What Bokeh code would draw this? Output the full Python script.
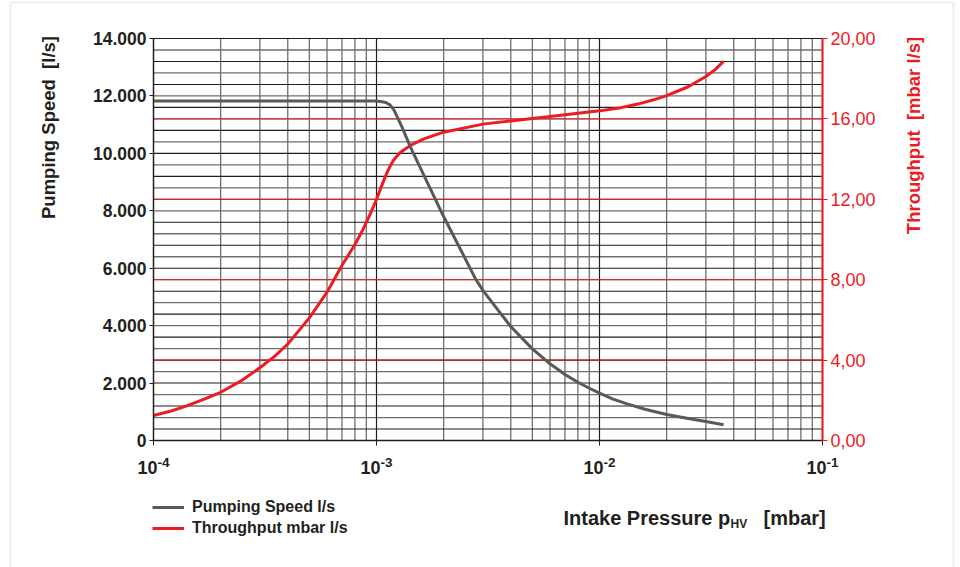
import math
from bokeh.plotting import figure
from bokeh.models import (Range1d, LinearAxis, FixedTicker, Label, Legend,
                          LegendItem, CustomJSTickFormatter, BoxAnnotation)
from bokeh.embed import file_html
from bokeh.resources import INLINE

# ---------------- data ----------------
pump_p = [1e-4, 1.0e-3, 1.06e-3, 1.1e-3, 1.15e-3, 1.2e-3, 1.3e-3, 1.42e-3, 2.0e-3,
          2.4e-3, 2.78e-3, 3.0e-3, 3.5e-3, 4.0e-3, 5.0e-3, 6.0e-3, 7.0e-3, 8.0e-3,
          9.0e-3, 1.0e-2, 1.15e-2, 1.33e-2, 1.6e-2, 2.0e-2, 2.5e-2, 3.0e-2, 3.6e-2]
pump_s = [11820, 11820, 11800, 11770, 11690, 11500, 10920, 10220, 7800,
          6600, 5630, 5230, 4550, 3970, 3190, 2670, 2300, 2030,
          1820, 1650, 1440, 1275, 1090, 906, 766, 662, 547]

thr_p = [1e-4, 1.2e-4, 1.4e-4, 1.7e-4, 2e-4, 2.45e-4, 3e-4, 3.5e-4, 4e-4, 5e-4, 6e-4,
         7e-4, 8e-4, 8.7e-4, 9.4e-4, 1.0e-3, 1.078e-3, 1.12e-3, 1.155e-3, 1.19e-3,
         1.22e-3, 1.281e-3, 1.42e-3, 1.63e-3, 2e-3, 3e-3, 4e-3, 5e-3, 6e-3, 1e-2,
         1.25e-2, 1.5e-2, 1.75e-2, 2e-2, 2.5e-2, 3e-2, 3.3e-2, 3.6e-2]
thr_q = [1.24, 1.47, 1.71, 2.07, 2.40, 2.94, 3.62, 4.20, 4.80, 6.10, 7.38,
         8.71, 9.75, 10.50, 11.30, 12.0, 12.94, 13.38, 13.68, 13.93,
         14.08, 14.34, 14.68, 15.01, 15.34, 15.74, 15.9, 16.02, 16.12, 16.40,
         16.56, 16.75, 16.95, 17.16, 17.6, 18.11, 18.45, 18.86]

x_decades = [1e-4, 1e-3, 1e-2, 1e-1]
x_base_labels = ["10", "10", "10", "10"]
x_exp_labels = ["-4", "-3", "-2", "-1"]
left_ticks = [0, 2000, 4000, 6000, 8000, 10000, 12000, 14000]
left_labels = ["0", "2.000", "4.000", "6.000", "8.000", "10.000", "12.000", "14.000"]
right_ticks = [0, 4, 8, 12, 16, 20]
right_labels = ["0,00", "4,00", "8,00", "12,00", "16,00", "20,00"]

# ---------------- layout / style ----------------
W, H = 960, 567
BOX_L, BOX_R, BOX_T, BOX_B = 153, 822, 38, 440     # pixel box of the chart grid
X_MIN, X_MAX = 1e-4, 1e-1
Y_MIN, Y_MAX = 0, 14000
R_MIN, R_MAX = 0, 20

px_per_dec = (BOX_R - BOX_L) / (math.log10(X_MAX) - math.log10(X_MIN))
x_start = 10 ** (math.log10(X_MIN) - BOX_L / px_per_dec)
x_end = 10 ** (math.log10(X_MAX) + (W - BOX_R) / px_per_dec)
y_per_px = (Y_MAX - Y_MIN) / (BOX_B - BOX_T)
r_per_px = (R_MAX - R_MIN) / (BOX_B - BOX_T)

FONT = "Liberation Sans"
TXT = "#231f20"
RED = "#ed1c24"
GRAY_LINE = "#58595b"
GRID_DARK = "#1e1e1e"
GRID_GRAY = "#6e6e6e"


def sy(page_y):
    return H - page_y


p = figure(width=W, height=H, x_axis_type="log",
           x_range=Range1d(x_start, x_end),
           y_range=Range1d(Y_MIN - (H - BOX_B) * y_per_px, Y_MAX + BOX_T * y_per_px),
           output_backend="svg", toolbar_location=None, min_border=0)
p.extra_y_ranges = {"right": Range1d(R_MIN - (H - BOX_B) * r_per_px,
                                     R_MAX + BOX_T * r_per_px)}
p.background_fill_color = "white"
p.border_fill_color = "white"
p.outline_line_color = None
p.xgrid.visible = False
p.ygrid.visible = False

# ---- grid lines (inside the chart box only) ----
minor_x = [d * m for d in x_decades[:-1] for m in range(2, 10)]
h_gray = list(range(800, Y_MAX, 800))
h_dark = list(range(400, Y_MAX + 1, 800))
red_grid = right_ticks[1:-1]

p.segment(x0=minor_x, y0=[Y_MIN] * len(minor_x), x1=minor_x, y1=[Y_MAX] * len(minor_x),
          line_color=GRID_GRAY, line_width=1.3)
p.segment(x0=[X_MIN] * len(h_gray), y0=h_gray, x1=[X_MAX] * len(h_gray), y1=h_gray,
          line_color=GRID_GRAY, line_width=1.3)
p.segment(x0=[X_MIN] * len(h_dark), y0=h_dark, x1=[X_MAX] * len(h_dark), y1=h_dark,
          line_color=GRID_DARK, line_width=1.1)
p.segment(x0=x_decades, y0=[Y_MIN] * 4, x1=x_decades, y1=[Y_MAX] * 4,
          line_color=GRID_DARK, line_width=1.2)
p.segment(x0=[X_MIN] * len(red_grid), y0=red_grid, x1=[X_MAX] * len(red_grid), y1=red_grid,
          y_range_name="right", line_color=RED, line_width=1)

# ---- axes (fixed on the box edges) ----
xa = p.xaxis[0]
xa.fixed_location = Y_MIN
xa.bounds = (X_MIN, X_MAX)
xa.ticker = FixedTicker(ticks=x_decades)
xa.formatter = CustomJSTickFormatter(code="return ''")
xa.axis_line_color = GRID_DARK
xa.axis_line_width = 1.3
xa.major_tick_line_color = GRID_DARK
xa.major_tick_out = 5
xa.major_tick_in = 0
xa.minor_tick_line_color = None

ya = p.yaxis[0]
ya.fixed_location = X_MIN
ya.bounds = (Y_MIN, Y_MAX)
ya.ticker = FixedTicker(ticks=left_ticks)
ya.major_label_overrides = dict(zip(left_ticks, left_labels))
ya.major_label_text_font = FONT
ya.major_label_text_font_size = "17.5px"
ya.major_label_text_font_style = "bold"
ya.major_label_text_color = TXT
ya.major_label_standoff = 3
ya.axis_line_color = GRID_DARK
ya.axis_line_width = 1.3
ya.major_tick_line_color = GRID_DARK
ya.major_tick_out = 4
ya.major_tick_in = 0
ya.minor_tick_line_color = None

ra = LinearAxis(y_range_name="right", ticker=FixedTicker(ticks=right_ticks),
                fixed_location=X_MAX, bounds=(R_MIN, R_MAX))
ra.major_label_overrides = dict(zip(right_ticks, right_labels))
ra.major_label_text_font = FONT
ra.major_label_text_font_size = "18px"
ra.major_label_text_color = RED
ra.major_label_standoff = 3
ra.axis_line_color = RED
ra.axis_line_width = 2
ra.major_tick_line_color = RED
ra.major_tick_out = 5
ra.major_tick_in = 0
ra.minor_tick_line_color = None
p.add_layout(ra, "right")

# ---- curves ----
r_thr = p.line(thr_p, thr_q, y_range_name="right", line_color=RED, line_width=3,
               line_join="round")
r_pump = p.line(pump_p, pump_s, line_color=GRAY_LINE, line_width=3, line_join="round")

# ---- legend ----
legend = Legend(items=[LegendItem(label="Pumping Speed l/s", renderers=[r_pump]),
                       LegendItem(label="Throughput mbar l/s", renderers=[r_thr])],
                location=(152, sy(538.3)), orientation="vertical",
                glyph_width=32, glyph_height=20, label_height=20, spacing=1,
                padding=0, margin=0, label_standoff=8,
                label_text_font=FONT, label_text_font_size="16px",
                label_text_font_style="bold", label_text_color=TXT,
                border_line_color=None, background_fill_alpha=0)
p.add_layout(legend, "center")

# ---- x tick labels (10 with raised exponent) ----
for d, base, ex in zip(x_decades, x_base_labels, x_exp_labels):
    p.add_layout(Label(x=d, x_units="data", y=sy(467), y_units="screen", x_offset=4,
                       text=base, text_align="right", text_baseline="alphabetic",
                       text_font=FONT, text_font_size="18px", text_font_style="bold",
                       text_color=TXT))
    p.add_layout(Label(x=d, x_units="data", y=sy(462), y_units="screen", x_offset=4,
                       text=ex, text_align="left", text_baseline="alphabetic",
                       text_font=FONT, text_font_size="13.5px", text_font_style="bold",
                       text_color=TXT))

# ---- axis titles ----
p.add_layout(Label(x=563, y=sy(517.3), x_units="screen", y_units="screen",
                   text="Intake Pressure p", text_align="left", text_baseline="alphabetic",
                   text_font=FONT, text_font_size="20px", text_font_style="bold",
                   text_color=TXT))
p.add_layout(Label(x=730, y=sy(523), x_units="screen", y_units="screen",
                   text="HV", text_align="left", text_baseline="alphabetic",
                   text_font=FONT, text_font_size="12px", text_font_style="bold",
                   text_color=TXT))
p.add_layout(Label(x=763, y=sy(517.3), x_units="screen", y_units="screen",
                   text="[mbar]", text_align="left", text_baseline="alphabetic",
                   text_font=FONT, text_font_size="20px", text_font_style="bold",
                   text_color=TXT))
p.add_layout(Label(x=48, y=sy(127), x_units="screen", y_units="screen",
                   text="Pumping Speed\u00a0 [l/s]", angle=math.pi / 2,
                   text_align="center", text_baseline="middle",
                   text_font=FONT, text_font_size="18.5px", text_font_style="bold",
                   text_color=TXT))
p.add_layout(Label(x=913, y=sy(135), x_units="screen", y_units="screen",
                   text="Throughput\u00a0 [mbar l/s]", angle=math.pi / 2,
                   text_align="center", text_baseline="middle",
                   text_font=FONT, text_font_size="18.5px", text_font_style="bold",
                   text_color=RED))

# ---- light page frame ----
p.add_layout(BoxAnnotation(left=10, right=953, top=sy(2), bottom=-10,
                           left_units="screen", right_units="screen",
                           top_units="screen", bottom_units="screen",
                           fill_alpha=0, line_color="#c8c8c8", line_width=2))

open("out.html", "w").write(file_html(p, INLINE))
